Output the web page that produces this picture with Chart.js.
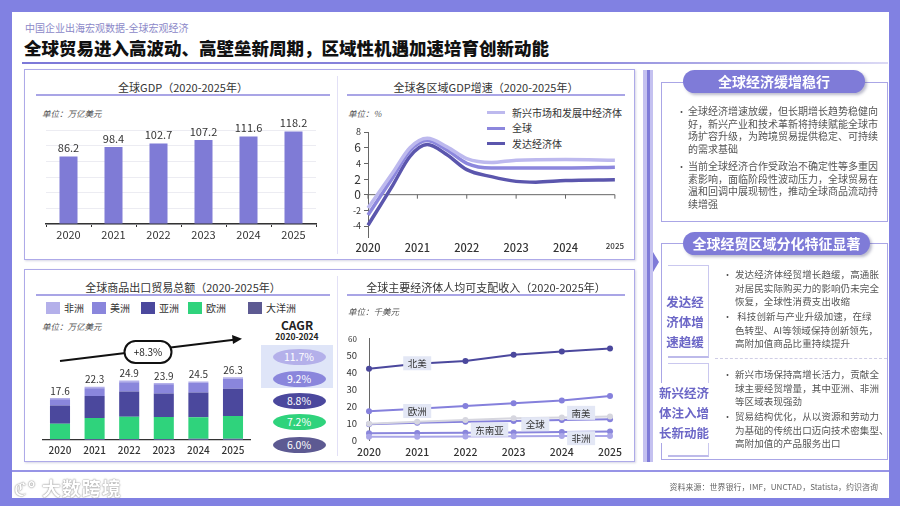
<!DOCTYPE html>
<html lang="zh-CN">
<head>
<meta charset="utf-8">
<title>全球宏观经济</title>
<script src="https://cdn.jsdelivr.net/npm/chart.js@4.4.1/dist/chart.umd.min.js"></script>
<style>
  * { box-sizing: border-box; }
  html, body { margin: 0; padding: 0; }
  body { width: 900px; height: 506px; position: relative; overflow: hidden; background: #8181e2;
         font-family: "Noto Sans CJK SC", "Noto Sans", sans-serif; color: #333; }
  .abs { position: absolute; }
  .card { left: 12px; top: 12px; width: 877px; height: 486px; background: #fff; }
  .panel { border: 1.5px solid #aeaae8; background: #fff; box-shadow: 1px 1px 2px rgba(90, 90, 150, .25); }
  .ctitle { font-size: 11px; line-height: 16px; color: #333; text-align: center; white-space: nowrap; }
  .tline { height: 1.5px; background: #a9a5e6; }
  .unit { font-size: 8.5px; line-height: 12px; font-style: italic; color: #555; white-space: nowrap; }
  .pill { height: 23px; border-radius: 12px; background: #7f7bd8; color: #fff; font-weight: 700; font-size: 14px;
          line-height: 23px; text-align: center; box-shadow: 2px 2px 3px rgba(60, 60, 110, .35); white-space: nowrap; }
  .box { border: 1.5px solid #aaa6e6; }
  .txt { font-size: 10px; line-height: 12.7px; color: #555; white-space: nowrap; }
  .txt2 { font-size: 9.5px; line-height: 13.5px; color: #555; white-space: nowrap; letter-spacing: .1px; }
  .dot { font-size: 9px; color: #555; }
  .grp { font-size: 12.5px; font-weight: 700; color: #6c67c7; line-height: 20px; text-align: center; white-space: nowrap; }
  .brk { border-top: 1.5px solid #cac8ef; border-right: 1.5px solid #cac8ef; border-bottom: 2px solid #bdbaea; }
  .oval { width: 53px; height: 16px; border-radius: 50%; color: #fff; font-size: 10.5px; line-height: 16px; text-align: center; }
  .leg { font-size: 10px; line-height: 14px; color: #333; white-space: nowrap; }
  canvas { position: absolute; }
</style>
</head>
<body>
<div class="abs card"></div>

<!-- header -->
<div class="abs" style="left:25px;top:21px;font-size:10px;line-height:14px;color:#8b88c8;">中国企业出海宏观数据-全球宏观经济</div>
<div class="abs" style="left:24px;top:37px;font-size:17.5px;line-height:22px;font-weight:900;color:#111;white-space:nowrap;">全球贸易进入高波动、高壁垒新周期，区域性机遇加速培育创新动能</div>
<div class="abs" style="left:22px;top:62px;width:866px;height:2px;background:linear-gradient(to right,#7d79d8 0,#8d89dc 65%,#dcdaf5 100%);"></div>

<!-- left panels -->
<div class="abs panel" style="left:24px;top:69px;width:611px;height:191px;"></div>
<div class="abs panel" style="left:24px;top:269px;width:611px;height:193px;"></div>
<div class="abs" style="left:337px;top:76px;width:1px;height:178px;background:#e2e0f6;"></div>
<div class="abs" style="left:337px;top:276px;width:1px;height:180px;background:#e2e0f6;"></div>

<!-- chart 1 -->
<div class="abs ctitle" style="left:36px;top:79px;width:294px;">全球GDP（2020-2025年）</div>
<div class="abs tline" style="left:36px;top:94px;width:294px;"></div>
<div class="abs unit" style="left:42px;top:107px;">单位：万亿美元</div>
<canvas id="gdpChart" width="290" height="148" style="left:36px;top:100px;"></canvas>

<!-- chart 2 -->
<div class="abs ctitle" style="left:347px;top:79px;width:278px;">全球各区域GDP增速（2020-2025年）</div>
<div class="abs tline" style="left:347px;top:94px;width:278px;"></div>
<div class="abs unit" style="left:348px;top:107px;">单位：%</div>
<div id="growthLegend"></div>
<canvas id="growthChart" width="290" height="140" style="left:338px;top:120px;"></canvas>

<!-- chart 3 -->
<div class="abs ctitle" style="left:36px;top:279px;width:294px;">全球商品出口贸易总额（2020-2025年）</div>
<div class="abs tline" style="left:36px;top:294px;width:294px;"></div>
<div id="tradeLegend"></div>
<div class="abs unit" style="left:42px;top:320px;">单位：万亿美元</div>
<div class="abs" style="left:261px;top:318px;width:72px;text-align:center;font-weight:700;font-size:12px;line-height:14px;color:#222;">CAGR</div>
<div class="abs" style="left:261px;top:331px;width:72px;text-align:center;font-weight:700;font-size:8.5px;line-height:11px;color:#222;">2020-2024</div>
<div class="abs" style="left:261px;top:345px;width:72px;height:43px;background:#dfe5f8;"></div>
<div id="cagrList"></div>
<canvas id="tradeChart" width="227" height="115" style="left:33px;top:350px;"></canvas>
<svg class="abs" style="left:0;top:0;" width="900" height="506">
  <line x1="60" y1="361" x2="234" y2="339.7" stroke="#111" stroke-width="2"/>
  <polygon points="242,338.7 232,335 233,344" fill="#111"/>
  <rect x="124.5" y="341" width="47" height="22" rx="11" fill="#fff" stroke="#111" stroke-width="2"/>
  <text x="148" y="355.5" font-size="10" text-anchor="middle" fill="#222" font-family="Noto Sans CJK SC">+8.3%</text>
</svg>

<!-- chart 4 -->
<div class="abs ctitle" style="left:347px;top:279px;width:278px;">全球主要经济体人均可支配收入（2020-2025年）</div>
<div class="abs tline" style="left:347px;top:294px;width:278px;"></div>
<div class="abs unit" style="left:348px;top:305px;">单位：千美元</div>
<canvas id="incomeChart" width="289" height="140" style="left:339px;top:322px;"></canvas>

<!-- right side -->
<div class="abs" style="left:643px;top:70px;width:10px;height:392px;background:linear-gradient(to right,#c4c1f0 0,#c4c1f0 4px,#7f7bd8 4px,#7f7bd8 7px,#c4c1f0 7px);"></div>
<div class="abs" style="left:653px;top:252px;width:0;height:0;border-left:6px solid #7f7bd8;border-top:10px solid transparent;border-bottom:10px solid transparent;"></div>

<div class="abs box" style="left:661px;top:82px;width:227px;height:140px;"></div>
<div class="abs pill" style="left:683px;top:70px;width:182px;">全球经济缓增稳行</div>
<div class="abs dot" style="left:677px;top:105px;">•</div>
<div class="abs txt" style="left:688px;top:105px;">全球经济增速放缓，但长期增长趋势稳健向<br>好，新兴产业和技术革新将持续赋能全球市<br>场扩容升级，为跨境贸易提供稳定、可持续<br>的需求基础</div>
<div class="abs dot" style="left:677px;top:160px;">•</div>
<div class="abs txt" style="left:688px;top:160px;">当前全球经济合作受政治不确定性等多重因<br>素影响，面临阶段性波动压力，全球贸易在<br>温和回调中展现韧性，推动全球商品流动持<br>续增强</div>

<div class="abs box" style="left:661px;top:243px;width:227px;height:217px;"></div>
<div class="abs pill" style="left:683px;top:232px;width:187px;">全球经贸区域分化特征显著</div>
<div class="abs brk" style="left:668px;top:265px;width:41px;height:93px;"></div>
<div class="abs grp" style="left:663px;top:292px;width:44px;background:#fff;">发达经<br>济体增<br>速趋缓</div>
<div class="abs brk" style="left:668px;top:363px;width:41px;height:94px;"></div>
<div class="abs grp" style="left:658px;top:383px;width:52px;background:#fff;">新兴经济<br>体注入增<br>长新动能</div>
<div class="abs dot" style="left:723px;top:268px;">•</div>
<div class="abs txt2" style="left:735px;top:268px;">发达经济体经贸增长趋缓，高通胀<br>对居民实际购买力的影响仍未完全<br>恢复，全球性消费支出收缩</div>
<div class="abs dot" style="left:723px;top:310px;">•</div>
<div class="abs txt2" style="left:735px;top:310px;">&nbsp;科技创新与产业升级加速，在绿<br>色转型、AI等领域保持创新领先，<br>高附加值商品比重持续提升</div>
<div class="abs" style="left:715px;top:358px;width:172px;border-top:1px dashed #cfcde6;"></div>
<div class="abs dot" style="left:723px;top:368px;">•</div>
<div class="abs txt2" style="left:735px;top:368px;">新兴市场保持高增长活力，贡献全<br>球主要经贸增量，其中亚洲、非洲<br>等区域表现强劲</div>
<div class="abs dot" style="left:723px;top:410px;">•</div>
<div class="abs txt2" style="left:735px;top:410px;">贸易结构优化，从以资源和劳动力<br>为基础的传统出口迈向技术密集型、<br>高附加值的产品服务出口</div>

<!-- footer -->
<div class="abs" style="left:12px;top:470px;width:877px;height:2px;background:#9794e6;"></div>
<div class="abs" style="left:14px;top:476px;font-size:19px;line-height:24px;color:#fff;font-weight:700;letter-spacing:1px;text-shadow:0 0 1px #888,0 0 2px #999;">ℭ° 大数跨境</div>
<div class="abs" style="left:560px;top:481px;width:318px;text-align:right;font-size:8px;line-height:12px;color:#666;">资料来源：世界银行，IMF，UNCTAD，Statista，约识咨询</div>

<script>
// 数据
const years = ['2020', '2021', '2022', '2023', '2024', '2025'];
const yearNums = [2020, 2021, 2022, 2023, 2024, 2025];

const gdpValues = [86.2, 98.4, 102.7, 107.2, 111.6, 118.2];

const growthNames = ['新兴市场和发展中经济体', '全球', '发达经济体'];
const growthValueTicks = [-4, -2, 0, 2, 4, 6, 8];
const growthEmerging = [[2020, -1.7], [2020.5, 2.8], [2020.85, 6.0], [2021.2, 7.2], [2021.6, 6.1], [2022, 4.6], [2022.5, 4.1], [2023, 4.4], [2024, 4.5], [2025, 4.4]];
const growthWorld = [[2020, -2.6], [2020.5, 2.2], [2020.85, 5.6], [2021.2, 6.9], [2021.6, 5.7], [2022, 4.0], [2022.5, 3.4], [2023, 3.4], [2024, 3.4], [2025, 3.5]];
const growthAdvanced = [[2020, -3.9], [2020.5, 1.2], [2020.85, 4.9], [2021.2, 6.4], [2021.6, 5.1], [2022, 3.2], [2022.5, 2.3], [2023, 1.7], [2023.4, 1.6], [2024, 1.8], [2025, 1.9]];

const tradeNames = ['非洲', '美洲', '亚洲', '欧洲', '大洋洲'];
const tradeAfrica = [0.5, 0.6, 0.7, 0.6, 0.6, 0.7];
const tradeAmericas = [2.7, 3.3, 3.9, 3.8, 4.0, 4.2];
const tradeAsia = [7.6, 9.2, 10.6, 9.9, 10.4, 11.4];
const tradeEurope = [6.5, 8.8, 9.3, 9.2, 9.0, 9.5];
const tradeOceania = [0.3, 0.4, 0.4, 0.4, 0.5, 0.5];
const tradeTotals = [17.6, 22.3, 24.9, 23.9, 24.5, 26.3];
const cagrLabels = ['11.7%', '9.2%', '8.8%', '7.2%', '6.0%'];

const incomeNames = ['北美', '欧洲', '南美', '全球', '东南亚', '非洲'];
const incomeNorthAmerica = [42.3, 45.2, 46.8, 50.5, 52.4, 54.3];
const incomeEurope = [17.0, 18.6, 20.1, 21.8, 23.4, 26.1];
const incomeSouthAmerica = [9.6, 10.8, 11.8, 12.9, 13.3, 13.9];
const incomeGlobal = [9.3, 10.3, 10.8, 11.3, 11.9, 12.3];
const incomeSEAsia = [4.0, 4.1, 4.3, 4.5, 4.7, 5.0];
const incomeAfrica = [2.0, 2.0, 2.1, 2.2, 2.3, 2.4];
const incomeTicks = [0, 10, 20, 30, 40, 50, 60];
// 线上标签：[文字, 年份, 数值]
const incomeTags = [['北美', 2021, 45.5], ['欧洲', 2021, 17.2], ['南美', 2024.4, 16.1], ['全球', 2023.45, 9.4], ['东南亚', 2022.5, 6.1], ['非洲', 2024.4, 1.1]];

const FONT = '"Noto Sans CJK SC", "Noto Sans", sans-serif';
Chart.defaults.font.family = FONT;
Chart.defaults.color = '#333';

const growthColors = ['#bdb9ee', '#8c87dd', '#5b56ad'];
const tradeColors = { '非洲': '#b4b0ea', '美洲': '#8a86dc', '亚洲': '#4b489d', '欧洲': '#2fd37c', '大洋洲': '#5d5a92' };
const incomeColors = ['#4b489d', '#8580dc', '#d6d6df', '#8580dc', '#8a86dc', '#aaa6e8'];

const toPoints = pairs => pairs.map(p => ({ x: p[0], y: p[1] }));
const byYear = vals => yearNums.map((yr, i) => ({ x: yr, y: vals[i] }));

// 柱顶数值
const barLabels = {
    id: 'barLabels',
    afterDatasetsDraw(chart, args, opts) {
        const ctx = chart.ctx;
        const meta = chart.getDatasetMeta(chart.data.datasets.length - 1);
        ctx.save();
        ctx.font = opts.font;
        ctx.fillStyle = '#333';
        ctx.textAlign = 'center';
        ctx.textBaseline = 'bottom';
        meta.data.forEach((bar, i) => ctx.fillText(opts.values[i], bar.x, bar.y - opts.gap));
        ctx.restore();
    }
};

// 零轴
const zeroAxis = {
    id: 'zeroAxis',
    beforeDatasetsDraw(chart) {
        const { ctx, chartArea, scales } = chart;
        const y0 = scales.y.getPixelForValue(0);
        ctx.save();
        ctx.strokeStyle = '#666';
        ctx.lineWidth = 1;
        ctx.beginPath();
        ctx.moveTo(chartArea.left, y0);
        ctx.lineTo(chartArea.right, y0);
        scales.x.ticks.forEach(t => {
            const px = scales.x.getPixelForValue(t.value);
            ctx.moveTo(px, y0);
            ctx.lineTo(px, y0 + 4);
        });
        ctx.stroke();
        ctx.restore();
    }
};

// 线条标签
const lineTags = {
    id: 'lineTags',
    afterDatasetsDraw(chart, args, opts) {
        const { ctx, scales } = chart;
        ctx.save();
        ctx.font = '9.5px ' + FONT;
        ctx.textAlign = 'center';
        ctx.textBaseline = 'middle';
        opts.tags.forEach(t => {
            const x = scales.x.getPixelForValue(t[1]);
            const y = scales.y.getPixelForValue(t[2]);
            const w = ctx.measureText(t[0]).width + 9;
            ctx.fillStyle = '#e3e7f5';
            ctx.fillRect(x - w / 2, y - 7, w, 14);
            ctx.fillStyle = '#333';
            ctx.fillText(t[0], x, y + 0.5);
        });
        ctx.restore();
    }
};

// 图例 / CAGR
document.getElementById('growthLegend').innerHTML = growthNames.map((n, i) =>
    `<div class="abs" style="left:487px;top:${111 + i * 15.5}px;width:18px;height:3px;background:${growthColors[i]};"></div>` +
    `<div class="abs leg" style="left:512px;top:${105.5 + i * 15.5}px;">${n}</div>`).join('');

const legendX = [46, 92, 141, 188, 248];
document.getElementById('tradeLegend').innerHTML = tradeNames.map((n, i) =>
    `<div class="abs" style="left:${legendX[i]}px;top:302px;width:14px;height:12px;background:${tradeColors[n]};"></div>` +
    `<div class="abs leg" style="left:${legendX[i] + 18}px;top:301px;">${n}</div>`).join('');

const cagrY = [357, 379, 401, 422, 445];
document.getElementById('cagrList').innerHTML = cagrLabels.map((c, i) =>
    `<div class="abs oval" style="left:272.5px;top:${cagrY[i] - 8}px;background:${tradeColors[tradeNames[i]]};">${c}</div>`).join('');

// 全球GDP
new Chart(document.getElementById('gdpChart'), {
    type: 'bar',
    data: {
        labels: years,
        datasets: [{ data: gdpValues, backgroundColor: '#7f7bd6', barPercentage: 0.4, categoryPercentage: 1 }]
    },
    options: {
        responsive: false,
        animation: false,
        layout: { padding: { left: 10, right: 10, top: 30, bottom: 6 } },
        scales: {
            x: {
                grid: { drawOnChartArea: false, tickLength: 3, color: '#333' },
                border: { color: '#333', width: 1.5 },
                ticks: { padding: 1, font: { size: 11 }, color: '#333' },
                afterFit: s => { s.height = 18; }
            },
            y: {
                min: 0, max: 120,
                ticks: { display: false, stepSize: 20 },
                grid: { color: '#ececf2', drawTicks: false },
                border: { display: false },
                afterFit: s => { s.width = 0; }
            }
        },
        plugins: {
            legend: { display: false }, tooltip: { enabled: false },
            barLabels: { values: gdpValues.map(v => v.toFixed(1)), font: '11px ' + FONT, gap: 3 }
        }
    },
    plugins: [barLabels]
});

// 全球各区域GDP增速
new Chart(document.getElementById('growthChart'), {
    type: 'line',
    data: {
        datasets: [growthEmerging, growthWorld, growthAdvanced].map((s, i) => ({
            label: growthNames[i],
            data: toPoints(s),
            borderColor: growthColors[i],
            borderWidth: 3.5,
            pointRadius: 0,
            cubicInterpolationMode: 'monotone',
            clip: false
        }))
    },
    options: {
        responsive: false,
        animation: false,
        layout: { padding: { left: 0, right: 13, top: 12, bottom: 5 } },
        scales: {
            x: {
                type: 'linear', min: 2020, max: 2025,
                ticks: {
                    stepSize: 1, padding: 4, color: '#333',
                    callback: v => String(v),
                    font: c => ({ size: c.tick && c.tick.value === 2025 ? 8 : 11, weight: 500 })
                },
                grid: { display: false, drawTicks: false },
                border: { display: false },
                afterFit: s => { s.height = 18; }
            },
            y: {
                min: -5.4, max: 8,
                afterBuildTicks: s => { s.ticks = growthValueTicks.map(v => ({ value: v })); },
                ticks: {
                    padding: 3, color: '#333',
                    font: c => ({ size: [6, 2, 0].includes(c.tick && c.tick.value) ? 12 : 9 })
                },
                grid: { drawOnChartArea: false, tickLength: 4, color: '#666' },
                border: { color: '#666' },
                afterFit: s => { s.width = 30; }
            }
        },
        plugins: { legend: { display: false }, tooltip: { enabled: false } }
    },
    plugins: [zeroAxis]
});

// 全球商品出口贸易总额
const tradeSeries = { '大洋洲': tradeOceania, '欧洲': tradeEurope, '亚洲': tradeAsia, '美洲': tradeAmericas, '非洲': tradeAfrica };
new Chart(document.getElementById('tradeChart'), {
    type: 'bar',
    data: {
        labels: years,
        datasets: Object.keys(tradeSeries).map(n => ({
            label: n,
            data: tradeSeries[n],
            backgroundColor: tradeColors[n],
            barPercentage: 0.58,
            categoryPercentage: 1
        }))
    },
    options: {
        responsive: false,
        animation: false,
        layout: { padding: { left: 9.7, right: 9.7, top: 18.3, bottom: 9 } },
        scales: {
            x: {
                stacked: true,
                grid: { display: false, drawTicks: false },
                border: { color: '#333', width: 1.2 },
                ticks: { padding: 4, font: { size: 10, weight: 500 }, color: '#333' },
                afterFit: s => { s.height = 16; }
            },
            y: { stacked: true, display: false, min: 0, max: 30 }
        },
        plugins: {
            legend: { display: false }, tooltip: { enabled: false },
            barLabels: { values: tradeTotals.map(v => v.toFixed(1)), font: '10px ' + FONT, gap: 2 }
        }
    },
    plugins: [barLabels]
});

// 全球主要经济体人均可支配收入
const incomeSeries = [incomeNorthAmerica, incomeEurope, incomeSouthAmerica, incomeGlobal, incomeSEAsia, incomeAfrica];
const incomeOrder = [2, 5, 4, 3, 1, 0];
new Chart(document.getElementById('incomeChart'), {
    type: 'line',
    data: {
        datasets: incomeOrder.map(i => ({
            label: incomeNames[i],
            data: byYear(incomeSeries[i]),
            borderColor: incomeColors[i],
            backgroundColor: incomeColors[i],
            borderWidth: 2,
            pointRadius: 3,
            pointBorderWidth: 0,
            clip: false
        }))
    },
    options: {
        responsive: false,
        animation: false,
        layout: { padding: { left: 0, right: 14, top: 10, bottom: 6 } },
        scales: {
            x: {
                type: 'linear', min: 2020, max: 2025,
                ticks: { stepSize: 1, padding: 6, color: '#333', callback: v => String(v), font: { size: 10.5, weight: 500 } },
                grid: { display: false, drawTicks: false },
                border: { display: false },
                afterFit: s => { s.height = 16; }
            },
            y: {
                min: 0, max: 60,
                afterBuildTicks: s => { s.ticks = incomeTicks.map(v => ({ value: v })); },
                ticks: { padding: 12, color: '#333', font: c => ({ size: c.tick && c.tick.value === 60 ? 8 : 9.5 }) },
                grid: { display: false, drawTicks: false },
                border: { color: '#666' },
                afterFit: s => { s.width = 30; }
            }
        },
        plugins: {
            legend: { display: false }, tooltip: { enabled: false },
            lineTags: { tags: incomeTags }
        }
    },
    plugins: [lineTags]
});
</script>
</body>
</html>
